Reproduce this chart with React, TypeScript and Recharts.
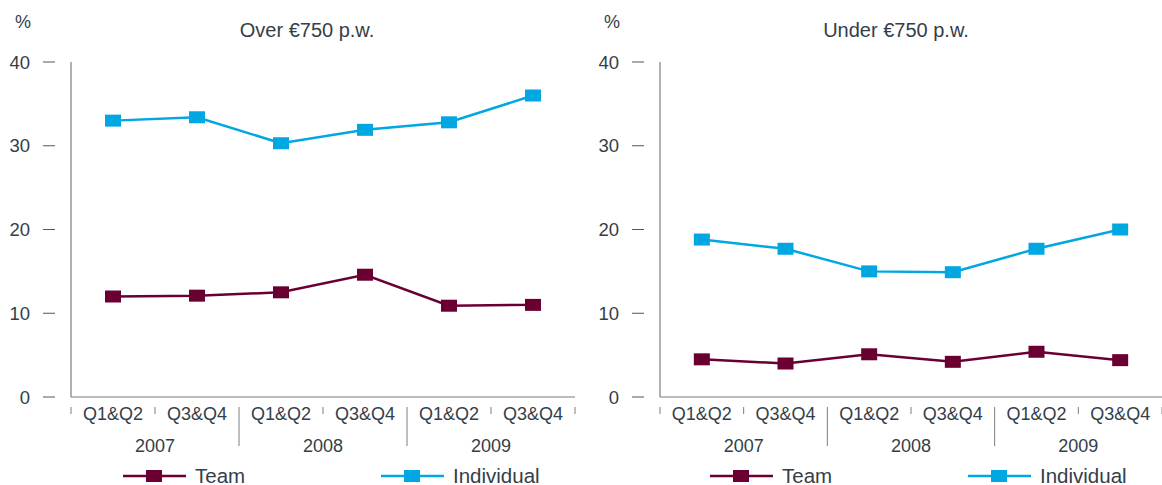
import React from 'react';
import { LineChart, Line, XAxis, YAxis, Legend } from 'recharts';

const categories = ['Q1&Q2', 'Q3&Q4', 'Q1&Q2', 'Q3&Q4', 'Q1&Q2', 'Q3&Q4'];
const years = ['2007', '2007', '2008', '2008', '2009', '2009'];
const yTicks = [0, 10, 20, 30, 40];

const teamOver = [12.0, 12.1, 12.5, 14.6, 10.9, 11.0];
const individualOver = [33.0, 33.4, 30.3, 31.9, 32.8, 36.0];
const teamUnder = [4.5, 4.0, 5.1, 4.2, 5.4, 4.4];
const individualUnder = [18.8, 17.7, 15.0, 14.9, 17.7, 20.0];

const TEAM = '#6a0032';
const INDIV = '#00a7e1';
const TEXT = '#343e48';
const AXIS = '#7d7d7d';
const FONT = '"Liberation Sans", Arial, sans-serif';

const buildData = (team: number[], indiv: number[]) =>
  categories.map((q, i) => ({ key: `${years[i]} ${q}`, q, year: years[i], Team: team[i], Individual: indiv[i] }));

const RectDot = (props: any) => {
  const { cx, cy, fill } = props;
  if (cx == null || cy == null) return null;
  return <rect x={cx - 8} y={cy - 6} width={16} height={12} fill={fill} />;
};

const YTick = (props: any) => {
  const { x, y, payload } = props;
  return (
    <g>
      <line x1={x - 28} x2={x - 16} y1={y} y2={y} stroke="#555" strokeWidth={1} />
      <text x={x - 41} y={y + 6.5} textAnchor="end" fill={TEXT} fontSize={18.5} fontFamily={FONT}>
        {payload.value}
      </text>
    </g>
  );
};

const makeXTick = (bw: number, count: number) => (props: any) => {
  const { x, y, index } = props;
  const left = x - bw / 2;
  const long = index % 2 === 0 && index > 0;
  return (
    <g>
      <line x1={left} x2={left} y1={y + 10} y2={long ? y + 49 : y + 17} stroke={AXIS} strokeWidth={1} />
      {index === count - 1 && (
        <line x1={x + bw / 2} x2={x + bw / 2} y1={y + 10} y2={y + 17} stroke={AXIS} strokeWidth={1} />
      )}
      <text x={x} y={y + 23} textAnchor="middle" fill={TEXT} fontSize={18} fontFamily={FONT}>
        {categories[index]}
      </text>
      {index % 2 === 0 && (
        <text x={x + bw / 2} y={y + 55} textAnchor="middle" fill={TEXT} fontSize={18} fontFamily={FONT}>
          {years[index]}
        </text>
      )}
    </g>
  );
};

const makeLegend = (teamX: number, indivX: number) => () => {
  const items = [
    { name: 'Team', color: TEAM, left: teamX },
    { name: 'Individual', color: INDIV, left: indivX },
  ];
  return (
    <div style={{ position: 'relative', height: 28 }}>
      {items.map((it) => (
        <div
          key={it.name}
          style={{ position: 'absolute', left: it.left, top: 9, display: 'flex', alignItems: 'center', height: 20 }}
        >
          <svg width={64} height={14} style={{ display: 'block' }}>
            <line x1={0} x2={63} y1={7} y2={7} stroke={it.color} strokeWidth={2.5} />
            <rect x={23} y={1} width={16} height={12} fill={it.color} />
          </svg>
          <span style={{ marginLeft: 8, fontSize: 20.5, fontFamily: FONT, color: TEXT, lineHeight: '20px' }}>
            {it.name}
          </span>
        </div>
      ))}
    </div>
  );
};

type PanelProps = {
  title: string;
  team: number[];
  indiv: number[];
  left: number;
  width: number;
  yAxisWidth: number;
  rightMargin: number;
  titleX: number;
  percentX: number;
  legendTeamX: number;
  legendIndivX: number;
};

const Panel = (p: PanelProps) => {
  const data = buildData(p.team, p.indiv);
  const plotWidth = p.width - p.yAxisWidth - p.rightMargin;
  const bw = plotWidth / categories.length;
  const XTick = makeXTick(bw, categories.length);
  const LegendContent = makeLegend(p.legendTeamX, p.legendIndivX);
  return (
    <div style={{ position: 'absolute', left: p.left, top: 0, width: p.width, height: 485 }}>
      <div
        style={{
          position: 'absolute',
          left: p.percentX,
          top: 10,
          fontSize: 18,
          fontFamily: FONT,
          color: TEXT,
          lineHeight: '24px',
        }}
      >
        %
      </div>
      <div
        style={{
          position: 'absolute',
          left: p.titleX,
          top: 18,
          transform: 'translateX(-50%)',
          whiteSpace: 'nowrap',
          fontSize: 20,
          fontFamily: FONT,
          color: TEXT,
          lineHeight: '24px',
        }}
      >
        {p.title}
      </div>
      <LineChart width={p.width} height={485} data={data} margin={{ top: 62, right: p.rightMargin, bottom: 0, left: 0 }}>
        <XAxis
          dataKey="key"
          type="category"
          padding={{ left: bw / 2, right: bw / 2 }}
          interval={0}
          tickLine={false}
          tickSize={0}
          tickMargin={0}
          axisLine={{ stroke: AXIS, strokeWidth: 1.2 }}
          height={60}
          tick={XTick}
        />
        <YAxis
          type="number"
          domain={[0, 40]}
          ticks={yTicks}
          width={p.yAxisWidth}
          tickLine={false}
          tickSize={0}
          tickMargin={0}
          axisLine={{ stroke: AXIS, strokeWidth: 1.2 }}
          tick={YTick}
        />
        <Legend
          verticalAlign="bottom"
          content={LegendContent}
          wrapperStyle={{ left: 0, bottom: 0, width: p.width, height: 28 }}
        />
        <Line
          type="linear"
          dataKey="Team"
          stroke={TEAM}
          strokeWidth={2.5}
          dot={(dp: any) => <RectDot key={`t${dp.index}`} {...dp} fill={TEAM} />}
          activeDot={false}
          isAnimationActive={false}
        />
        <Line
          type="linear"
          dataKey="Individual"
          stroke={INDIV}
          strokeWidth={2.5}
          dot={(dp: any) => <RectDot key={`i${dp.index}`} {...dp} fill={INDIV} />}
          activeDot={false}
          isAnimationActive={false}
        />
      </LineChart>
    </div>
  );
};

export default function App() {
  return (
    <div style={{ position: 'absolute', left: 0, top: 0, width: 1162, height: 485, background: '#fff' }}>
      <Panel
        title="Over €750 p.w."
        team={teamOver}
        indiv={individualOver}
        left={0}
        width={580}
        yAxisWidth={71}
        rightMargin={5}
        titleX={307}
        percentX={15}
        legendTeamX={123}
        legendIndivX={381}
      />
      <Panel
        title="Under €750 p.w."
        team={teamUnder}
        indiv={individualUnder}
        left={580}
        width={582}
        yAxisWidth={80}
        rightMargin={0}
        titleX={316}
        percentX={24}
        legendTeamX={130}
        legendIndivX={388}
      />
    </div>
  );
}
